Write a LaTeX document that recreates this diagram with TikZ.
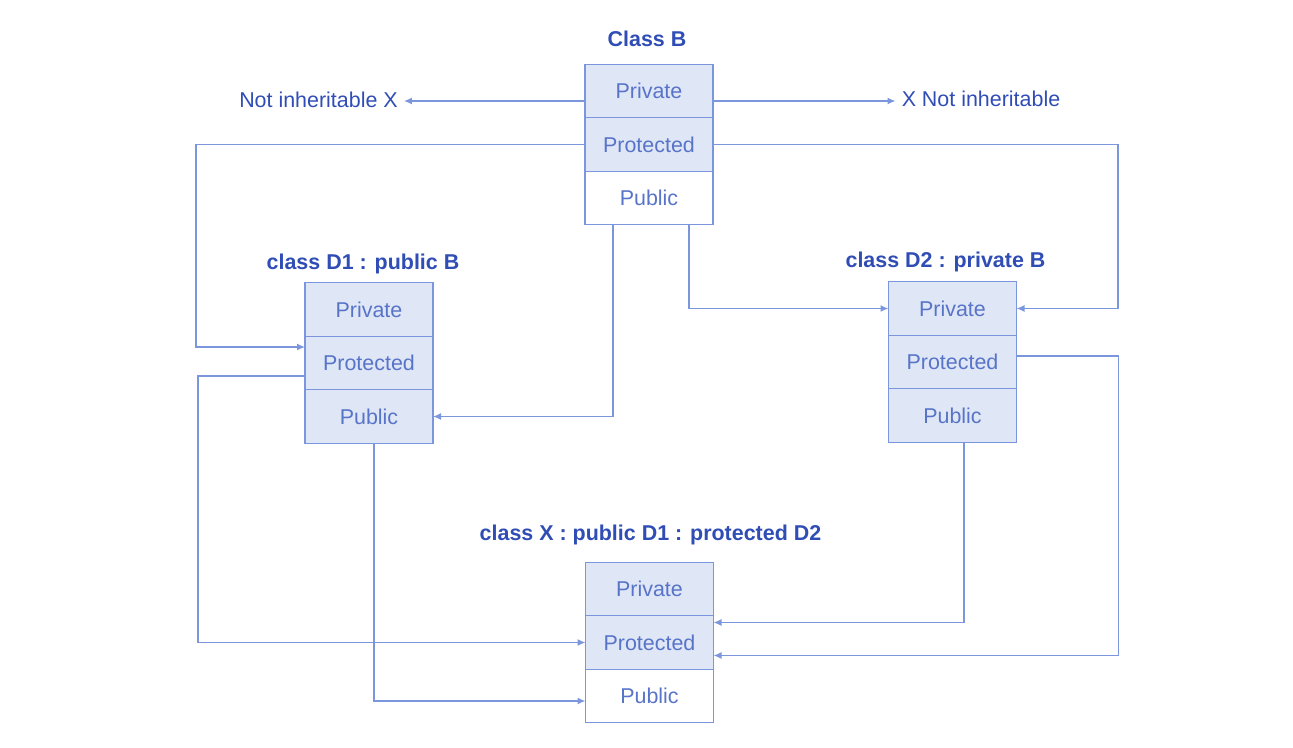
\documentclass[tikz,border=0pt]{standalone}
\usepackage{fontspec}
\setmainfont{Liberation Sans}
\usetikzlibrary{arrows.meta,positioning}

\definecolor{linecol}{HTML}{7B96DC}
\definecolor{labelcol}{HTML}{2F4DB5}
\definecolor{cellfill}{HTML}{DFE6F6}
\definecolor{celltext}{HTML}{5874C8}

\tikzset{
	cell/.style={draw=linecol, line width=0.8pt, minimum width=2.56cm, minimum height=1.07cm,
		inner sep=0pt, outer sep=0pt, text=celltext, font=\fontsize{12.2}{14}\selectfont},
	shaded/.style={cell, fill=cellfill},
	title/.style={text=labelcol, font=\fontsize{12.2}{14}\selectfont\bfseries},
	note/.style={text=labelcol, font=\fontsize{12.2}{14}\selectfont},
	link/.style={draw=linecol, line width=0.8pt, -{Latex[length=1.6mm,width=1.4mm]}}
}

\begin{document}
\begin{tikzpicture}
	\useasboundingbox (0,0) rectangle (25.86,14.94);
	% Draw class B
	\node[shaded] (bpriv) at (12.98,13.12) {Private};
	\node[shaded, below=0pt of bpriv] (bprot) {Protected};
	\node[cell, below=0pt of bprot] (bpub) {Public};
	\node[title] (btitle) at (12.94,14.16) {Class B};
	% Draw class D1
	\node[shaded] (d1priv) at (7.38,8.75) {Private};
	\node[shaded, below=0pt of d1priv] (d1prot) {Protected};
	\node[shaded, below=0pt of d1prot] (d1pub) {Public};
	\node[title] (d1title) at (7.26,9.66) {class D1 : public B};
	% Draw class D2
	\node[shaded] (d2priv) at (19.05,8.77) {Private};
	\node[shaded, below=0pt of d2priv] (d2prot) {Protected};
	\node[shaded, below=0pt of d2prot] (d2pub) {Public};
	\node[title] (d2title) at (18.91,9.70) {class D2 : private B};
	% Draw class X
	\node[shaded] (xpriv) at (12.99,3.16) {Private};
	\node[shaded, below=0pt of xpriv] (xprot) {Protected};
	\node[cell, below=0pt of xprot] (xpub) {Public};
	\node[title] (xtitle) at (13.01,4.24) {class X : public D1 : protected D2};
	% Draw side notes
	\node[note] (nileft) at (6.37,12.94) {Not inheritable X};
	\node[note] (niright) at (19.62,12.96) {X Not inheritable};
	\coordinate (bleft) at ([yshift=-2mm]bpriv.west);
	\coordinate (bright) at ([yshift=-2mm]bpriv.east);
	% Draw links from B
	\draw[link] (bleft) -- (nileft.east |- bleft);
	\draw[link] (bright) -- (niright.west |- bright);
	\draw[link] (bprot.west) -- ++(-7.78,0) |- ([yshift=3.2mm]d1prot.west);
	\draw[link] (bprot.east) -- ++(8.1,0) |- (d2priv.east);
	\draw[link] ([xshift=-7.2mm]bpub.south) |- (d1pub.east);
	\draw[link] ([xshift=8mm]bpub.south) |- (d2priv.west);
	% Draw links to X
	\draw[link] ([yshift=-2.6mm]d1prot.west) -- ++(-2.14,0) |- (xprot.west);
	\draw[link] ([xshift=1mm]d1pub.south) |- ([yshift=-1mm]xpub.west);
	\draw[link] ([xshift=2.3mm]d2pub.south) |- ([yshift=4mm]xprot.east);
	\draw[link] ([yshift=1.2mm]d2prot.east) -- ++(2.04,0) |- ([yshift=-2.6mm]xprot.east);
\end{tikzpicture}
\end{document}
